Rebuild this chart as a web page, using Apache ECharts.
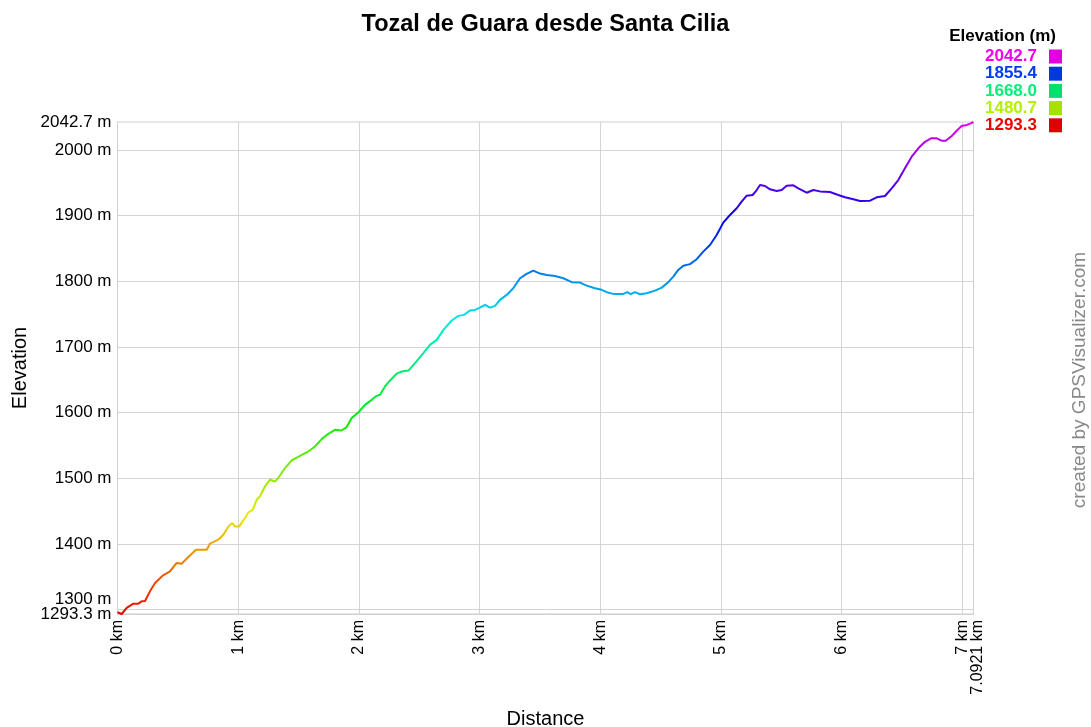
<!DOCTYPE html>
<html><head><meta charset="utf-8">
<script src="https://cdn.jsdelivr.net/npm/echarts@6/dist/echarts.min.js"></script>
<style>html,body{margin:0;padding:0;background:#fff}#c{width:1091px;height:727px}</style>
</head><body><div id="c"></div>
<script>
const title = 'Tozal de Guara desde Santa Cilia';
const distKm = [0,0.035,0.076,0.131,0.172,0.2,0.228,0.269,0.311,0.374,0.435,0.49,0.532,0.587,0.65,0.739,0.766,0.835,0.877,0.924,0.951,0.973,1.009,1.056,1.084,1.12,1.153,1.18,1.222,1.263,1.305,1.332,1.388,1.443,1.512,1.581,1.636,1.692,1.747,1.802,1.857,1.899,1.94,1.995,2.05,2.106,2.147,2.175,2.216,2.258,2.313,2.355,2.41,2.465,2.534,2.589,2.645,2.7,2.769,2.824,2.871,2.92,2.962,3.003,3.045,3.086,3.128,3.169,3.225,3.279,3.335,3.39,3.445,3.5,3.556,3.625,3.694,3.763,3.832,3.887,3.956,4.011,4.053,4.108,4.191,4.224,4.252,4.288,4.329,4.384,4.453,4.509,4.563,4.605,4.646,4.688,4.743,4.799,4.853,4.909,4.964,5.019,5.075,5.13,5.171,5.213,5.262,5.296,5.323,5.365,5.406,5.461,5.503,5.544,5.599,5.641,5.71,5.765,5.82,5.903,5.972,6.028,6.097,6.152,6.235,6.29,6.359,6.414,6.469,6.524,6.58,6.635,6.69,6.74,6.787,6.829,6.862,6.912,6.953,6.994,7.036,7.069,7.0921];
const elevM = [1295.9,1293.3,1302.5,1309,1309,1312.6,1313,1327.8,1340.5,1351.7,1358.3,1371,1370,1380,1391.3,1391.3,1400.4,1406.5,1414,1427.8,1431.9,1426.7,1426.7,1439.5,1448,1452,1467.3,1472.4,1487.6,1497.8,1495.2,1500.4,1515.6,1527.2,1534.3,1540.9,1548.5,1559.7,1567.8,1573.9,1572.8,1578,1591.7,1600.2,1611.9,1619.5,1625.6,1627.2,1639.9,1649,1659.5,1662.6,1664.1,1675.4,1690.6,1703.2,1710.9,1726.1,1740.3,1747.4,1748.9,1755.5,1756.5,1760,1764.1,1760,1762.6,1771.7,1779.3,1789.5,1804.7,1811.3,1816.3,1811.8,1809.8,1808.2,1804.7,1798.7,1798.1,1793.5,1789.5,1787.1,1783.5,1780.9,1780.9,1783.5,1780.4,1783.5,1780.4,1781.9,1785.9,1790.4,1798.7,1807.2,1817.4,1823.8,1826.2,1833.7,1845.2,1855.4,1870.6,1889.4,1901.1,1911.3,1921.3,1930.5,1931.5,1939.1,1946.7,1945.2,1940.2,1937.6,1939.1,1945.7,1946.3,1941.7,1935,1939.1,1937,1936,1931.5,1928,1925,1922.4,1922.8,1928,1930,1941.7,1954.3,1972.1,1989.8,2002.6,2012.6,2017.8,2017.8,2014.2,2014.2,2021.3,2029.4,2036.5,2038.1,2040.6,2042.7];
const yTickValues = [1300,1400,1500,1600,1700,1800,1900,2000];
const yEndValues = [1293.3,2042.7];
const xTickValues = [0,1,2,3,4,5,6,7];
const xEndValues = [7.0921];
const legendValues = [2042.7,1855.4,1668.0,1480.7,1293.3];
const elevMin = 1293.3, elevMax = 2042.7, distMax = 7.0921;

function hueColor(v, light) {
  const h = 300 * (v - elevMin) / (elevMax - elevMin);
  return 'hsl(' + h.toFixed(1) + ',100%,' + light + '%)';
}
const stops = [];
for (let i = 0; i <= 10; i++) stops.push(hueColor(elevMin + (elevMax - elevMin) * i / 10, 46));

const chart = echarts.init(document.getElementById('c'), null, {renderer: 'canvas'});
const font = 'Liberation Sans, Arial, sans-serif';

const graphics = [{
  type: 'text', x: 1056, y: 36,
  style: {text: 'Elevation (m)', font: 'bold 17px ' + font, fill: '#000', align: 'right', verticalAlign: 'middle'}
}];
legendValues.forEach((v, i) => {
  const y = 56.5 + i * 17.2;
  graphics.push({type: 'text', x: 1037, y: y,
    style: {text: v.toFixed(1), font: 'bold 17px ' + font, fill: hueColor(v, 47), align: 'right', verticalAlign: 'middle'}});
  graphics.push({type: 'rect', shape: {x: 1049, y: y - 7, width: 13, height: 14},
    style: {fill: hueColor(v, 44)}});
});
graphics.push({type: 'text', x: 1080, y: 380, rotation: Math.PI / 2,
  style: {text: 'created by GPSVisualizer.com', font: '19px ' + font, fill: '#888', align: 'center', verticalAlign: 'middle'}});

const labelStyle = {fontFamily: font, fontSize: 17, color: '#000'};
const xLabelStyle = {fontFamily: font, fontSize: 16, color: '#000'};

chart.setOption({
  animation: false,
  backgroundColor: '#fff',
  title: {text: title, left: 'center', top: 8,
    textStyle: {fontFamily: font, fontSize: 23.5, fontWeight: 'bold', color: '#000'}},
  grid: {left: 117.5, right: 117.5, top: 122, bottom: 113, containLabel: false, outerBoundsMode: 'none',
    show: true, borderColor: '#cfcfcf', borderWidth: 1},
  visualMap: {show: false, type: 'continuous', dimension: 1, seriesIndex: 0, min: elevMin, max: elevMax, inRange: {color: stops}},
  xAxis: [{
    type: 'value', min: 0, max: distMax, position: 'bottom',
    name: 'Distance', nameLocation: 'middle', nameGap: 95,
    nameTextStyle: {fontFamily: font, fontSize: 20, color: '#000'},
    axisLine: {show: true, lineStyle: {color: '#cfcfcf'}},
    axisTick: {show: false, customValues: xTickValues},
    axisLabel: Object.assign({customValues: xTickValues, rotate: 90, margin: 6, hideOverlap: false,
      formatter: v => v + ' km'}, xLabelStyle),
    splitLine: {show: true, lineStyle: {color: '#d4d4d4', width: 1}}
  }, {
    type: 'value', min: 0, max: distMax, position: 'bottom', offset: 0,
    axisLine: {show: false}, splitLine: {show: false},
    axisTick: {show: false, customValues: xEndValues},
    axisLabel: Object.assign({customValues: xEndValues, rotate: 90, margin: 6, hideOverlap: false,
      showMinLabel: true, showMaxLabel: true,
      formatter: v => '{e|' + v + ' km}',
      rich: {e: {fontFamily: font, fontSize: 16, color: '#000', padding: [8, 0, 0, 0]}}}, xLabelStyle)
  }],
  yAxis: [{
    type: 'value', min: elevMin, max: elevMax, position: 'left',
    name: 'Elevation', nameLocation: 'middle', nameGap: 87, nameRotate: 90,
    nameTextStyle: {fontFamily: font, fontSize: 20, color: '#000'},
    axisLine: {show: true, lineStyle: {color: '#cfcfcf'}},
    axisTick: {show: false, customValues: yTickValues},
    axisLabel: Object.assign({customValues: yTickValues, margin: 6, hideOverlap: false,
      formatter: v => (v === 1300 ? '{up|1300 m}' : v + ' m'),
      rich: {up: {fontFamily: font, fontSize: 17, color: '#000', padding: [0, 0, 20, 0]}}}, labelStyle),
    splitLine: {show: true, lineStyle: {color: '#d4d4d4', width: 1}}
  }, {
    type: 'value', min: elevMin, max: elevMax, position: 'left', offset: 0,
    axisLine: {show: false}, splitLine: {show: false},
    axisTick: {show: false, customValues: yEndValues},
    axisLabel: Object.assign({customValues: yEndValues, margin: 6, hideOverlap: false,
      showMinLabel: true, showMaxLabel: true,
      formatter: v => v + ' m'}, labelStyle)
  }],
  series: [{
    type: 'line', showSymbol: false, symbol: 'none', xAxisIndex: 0, yAxisIndex: 0,
    data: distKm.map((d, i) => [d, elevM[i]]),
    lineStyle: {width: 2}
  }],
  graphic: graphics
});
</script></body></html>
